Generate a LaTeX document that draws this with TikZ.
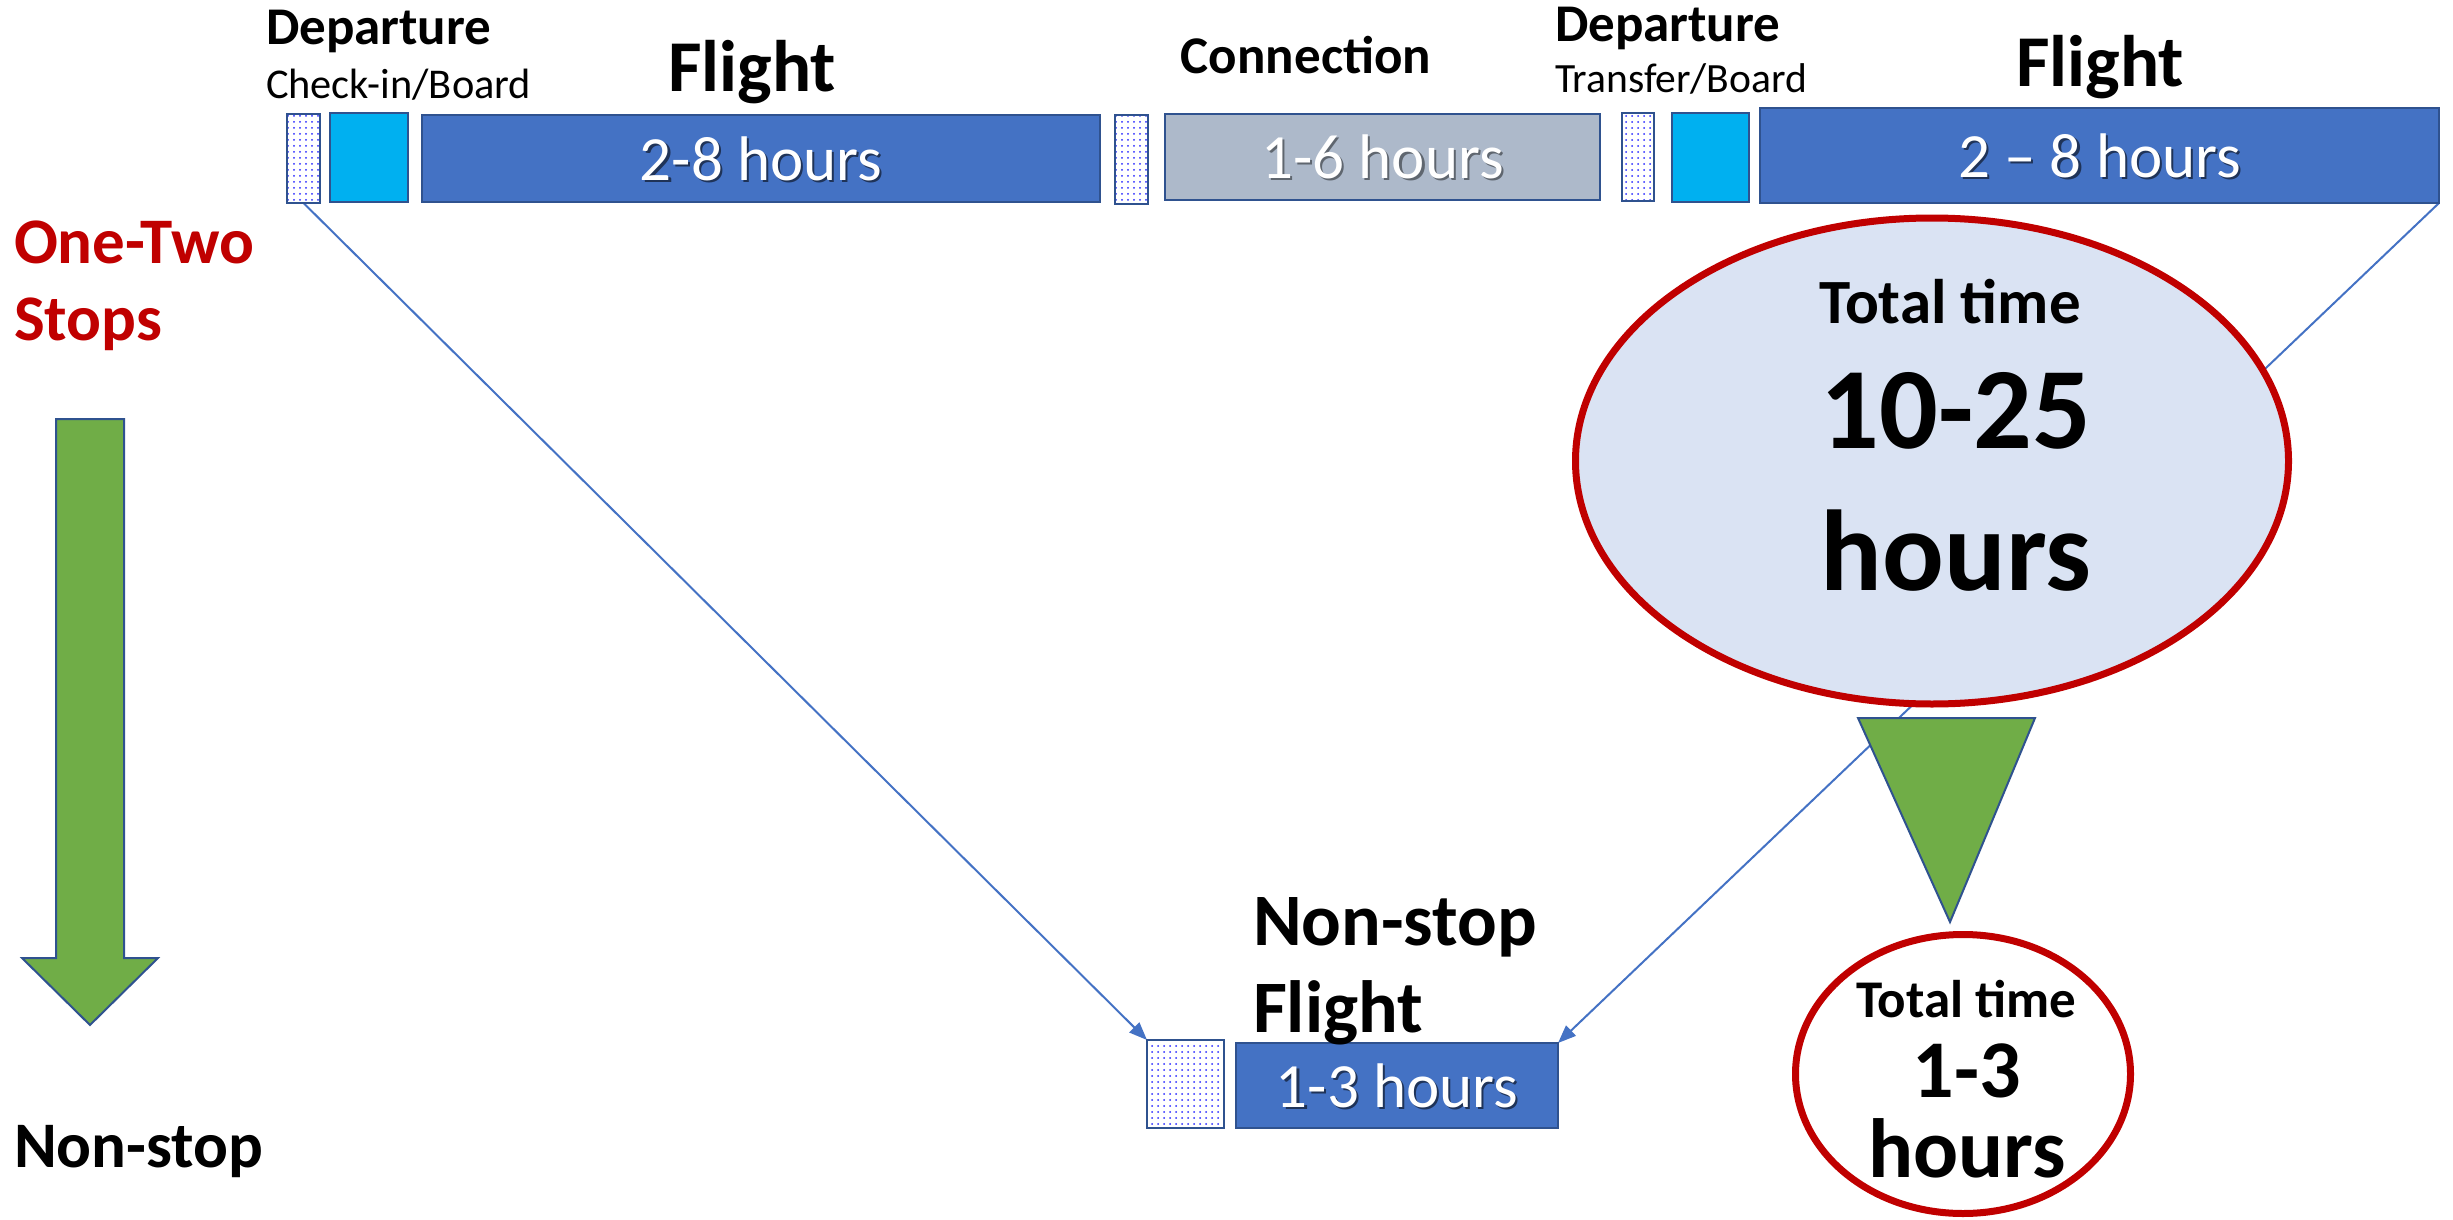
\documentclass[tikz,border=0pt]{standalone}
\usepackage{fontspec}
\setmainfont{Carlito}
\usetikzlibrary{shapes.geometric,patterns,arrows.meta,backgrounds}
\definecolor{fblue}{HTML}{4472C4}
\definecolor{oblue}{HTML}{2F528F}
\definecolor{fcyan}{HTML}{00B0F0}
\definecolor{fgray}{HTML}{ADB9CA}
\definecolor{dotblue}{RGB}{40,40,255}
\definecolor{lblue}{HTML}{DAE3F3}
\definecolor{dred}{HTML}{C00000}
\definecolor{fgreen}{HTML}{70AD47}
\colorlet{bshadow}{black!55!fblue}
\colorlet{gshadow}{black!45!fgray}
\newcommand\shadowtxt[2]{\makebox[0pt][l]{\smash{\hspace*{1.1pt}\raisebox{-1.1pt}{\textcolor{#1}{#2}}}}\textcolor{white}{#2}}
\tikzset{
 basebox/.style={rectangle, draw=oblue, line width=1pt, inner sep=0pt, outer sep=0pt},
 dotbox/.style={basebox, preaction={fill=white}, pattern=dots, pattern color=dotblue},
 cyanbox/.style={basebox, fill=fcyan},
 flightbox/.style={basebox, fill=fblue, font=\fontsize{31.5}{37}\selectfont},
 connbox/.style={basebox, fill=fgray, font=\fontsize{31.5}{37}\selectfont},
 lbl/.style={inner sep=0pt, outer sep=0pt, anchor=base},
 lblw/.style={lbl, anchor=base west},
 connector/.style={draw=fblue, line width=1pt, -{Triangle[length=9pt,width=7pt]}},
 greenshape/.style={fill=fgreen, draw=oblue, line width=1pt},
 redoval/.style={ellipse, draw=dred, line width=3.5pt, inner sep=0pt},
}
\begin{document}
\begin{tikzpicture}[x=0.5pt,y=-0.5pt]
\useasboundingbox (0,0) rectangle (2453,1220);
% top row of boxes
\node[dotbox, minimum width=16.5pt, minimum height=44.5pt] (d1) at (303.5,158.5) {};
\node[cyanbox, minimum width=39pt, minimum height=44.5pt] (c1) at (369,157.5) {};
\node[flightbox, minimum width=339pt, minimum height=43.5pt] (f1) at (761,158.5) {\shadowtxt{bshadow}{2-8 hours}};
\node[dotbox, minimum width=16.5pt, minimum height=44.5pt] (d2) at (1131.5,159.5) {};
\node[connbox, minimum width=217.5pt, minimum height=43pt] (cx) at (1382.5,157) {\shadowtxt{gshadow}{1-6 hours}};
\node[dotbox, minimum width=16pt, minimum height=44pt] (d3) at (1638,157) {};
\node[cyanbox, minimum width=38.5pt, minimum height=44.5pt] (c2) at (1710.5,157.5) {};
\node[flightbox, minimum width=339.5pt, minimum height=47.5pt] (f2) at (2099.5,155.5) {\shadowtxt{bshadow}{2 – 8 hours}};
% non-stop boxes
\node[dotbox, minimum width=38.5pt, minimum height=44pt] (d4) at (1185.5,1084) {};
\node[flightbox, minimum width=161pt, minimum height=42.5pt] (f3) at (1397,1085.5) {\shadowtxt{bshadow}{1-3 hours}};
% top labels
\node[lblw, font=\bfseries\fontsize{26.5}{31}\selectfont] (dep1) at (266,45) {Departure};
\node[lblw, font=\fontsize{21.2}{25}\selectfont] (chk) at (266,99) {Check-in/Board};
\node[lbl, font=\bfseries\fontsize{36.5}{43}\selectfont] (flt1) at (752,92) {Flight};
\node[lbl, font=\bfseries\fontsize{26.5}{31}\selectfont] (cnx) at (1306,74) {Connection};
\node[lblw, font=\bfseries\fontsize{26.5}{31}\selectfont] (dep2) at (1555,42) {Departure};
\node[lblw, font=\fontsize{20.8}{25}\selectfont] (trf) at (1555,93) {Transfer/Board};
\node[lbl, font=\bfseries\fontsize{36.5}{43}\selectfont] (flt2) at (2100,87) {Flight};
% left labels
\node[lblw, text=dred, font=\bfseries\fontsize{32.5}{37}\selectfont] (one) at (14,263) {One-Two};
\node[lblw, text=dred, font=\bfseries\fontsize{32.5}{37}\selectfont] (stops) at (14,340) {Stops};
\node[lblw, font=\bfseries\fontsize{32.5}{37}\selectfont] (nonl) at (14,1167) {Non-stop};
% middle labels
\node[lblw, font=\bfseries\fontsize{37}{43}\selectfont] (ns1) at (1253,945) {Non-stop};
\node[lblw, font=\bfseries\fontsize{37}{43}\selectfont] (ns2) at (1253,1032) {Flight};
% big ellipse
\node[redoval, fill=lblue, minimum width=356.5pt, minimum height=243pt] (big) at (1932,461) {};
\node[lbl, font=\bfseries\fontsize{31.5}{37}\selectfont] (bt1) at (1950,323) {Total time};
\node[lbl, font=\bfseries\fontsize{58}{67}\selectfont] (bt2) at (1956,448) {10-25};
\node[lbl, font=\bfseries\fontsize{57.5}{67}\selectfont] (bt3) at (1956,590) {hours};
% small ellipse
\node[redoval, fill=white, minimum width=167.5pt, minimum height=139.5pt] (small) at (1963,1074) {};
\node[lbl, font=\bfseries\fontsize{26.5}{31}\selectfont] (st1) at (1966,1017) {Total time};
\node[lbl, font=\bfseries\fontsize{41}{48}\selectfont] (st2) at (1967,1097) {1-3};
\node[lbl, font=\bfseries\fontsize{42}{49}\selectfont] (st3) at (1967,1177) {hours};
% green shapes
\draw[greenshape] (1858,718) -- (2035,718) -- (1950,922) -- cycle;
\draw[greenshape] (56,419) -- (124,419) -- (124,958) -- (158,958) -- (90,1025) -- (22,958) -- (56,958) -- cycle;
% connectors
\begin{scope}[on background layer]
\draw[connector] (d1.south) -- (d4.north west);
\draw[connector] (f2.south east) -- (f3.north east);
\end{scope}
\end{tikzpicture}
\end{document}
